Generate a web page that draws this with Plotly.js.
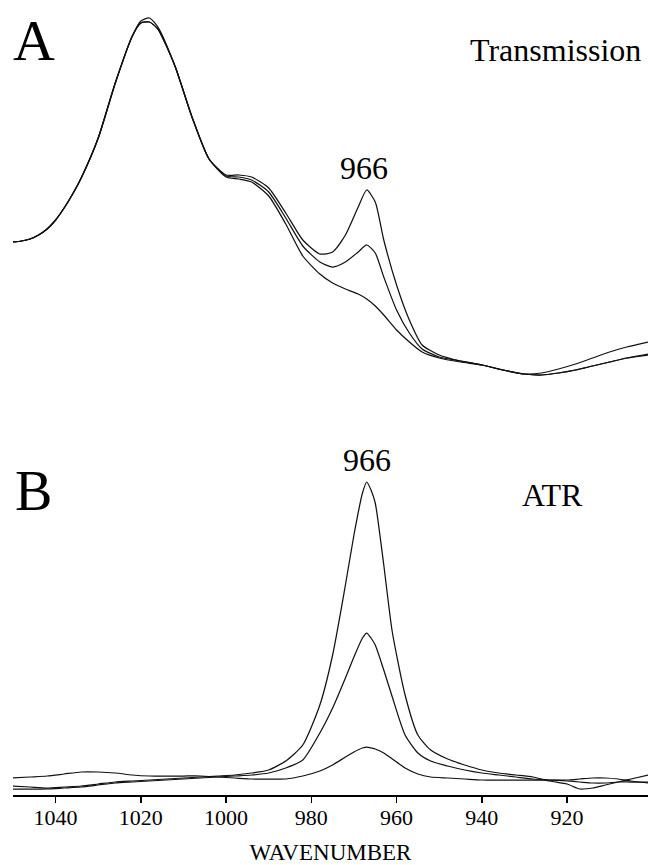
<!DOCTYPE html>
<html>
<head>
<meta charset="utf-8">
<script src="https://cdn.plot.ly/plotly-3.0.1.min.js"></script>
<style>html,body{margin:0;padding:0;background:#fff;}#chart{width:648px;height:865px;}</style>
</head>
<body>
<div id="chart"></div>
<script>
// Panel A (Transmission) - wavenumber grid and absorbance (arbitrary units)
const wnA = [1050,1048,1046,1044,1042,1040,1038,1036,1034,1030,1026,1022,1020,1018,1016,1012,1008,1004,1000,997,994,990,986,982,978,975,972,969,967,965,963,960,957,954,950,945,940,935,930,926,922,918,914,910,906,901];
const transHigh = [158,159,161,165,171,180,192,206,222,262,317,364,379,382,373,334,283,241,225,225,223,212,187,160,146,148,165,193,210,198,160,115,80,55,45,39,35,30,26,27,31,36,42,48,53,58];
const transMid  = [158,159,161,165,171,180,192,206,222,262,317,364,377,378,371,334,283,241,224,223,220,208,182,154,138,133,138,148,155,147,123,90,67,51,43,39,35,30,26,25,27,30,34,38,42,46];
const transLow  = [158,159,161,165,171,180,192,206,222,262,317,364,377,378,371,334,283,241,223,221,218,204,176,144,126,117,111,106,101,94,85,70,58,48,42,38,35,30,26,25,27,30,34,38,42,45];

// Panel B (ATR)
const wnB = [1050,1046,1042,1038,1034,1030,1026,1022,1018,1014,1010,1006,1002,998,994,990,986,982,978,975,972,970,968,967,966,965,963,961,958,955,952,948,944,940,936,932,928,924,920,917,914,911,908,905,901];
const atrHigh = [4,3,2,3,4,6,8,9,10,11,12,13,14,15,17,20,29,45,85,135,205,255,297,308,300,287,225,158,95,55,40,31,25,20,17,15,13,9,6,1,2,5,8,11,15];
const atrMid  = [1,1,1,2,3,5,7,8,9,10,11,12,13,14,15,17,22,30,57,82,112,133,152,157,152,145,120,93,55,37,29,24,20,17,15,13,11,10,9,8,7,7,8,8,8];
const atrLow  = [12,13,14,16,18,18,17,15,14,14,14,14,13,12,11,11,11,14,19,25,33,38,42,43,42,41,37,31,22,16,13,12,11,10,10,10,10,10,10,11,12,12,11,9,7];

const tickVals = [1040,1020,1000,980,960,940,920];
const tickText = ['1040','1020','1000','980','960','940','920'];

const FONT = 'Liberation Serif, Times New Roman, serif';
const lineStyle = {color:'#111', width:1.25, shape:'spline', smoothing:0.6};

function tr(x, y, ax) {
  return {x:x, y:y, type:'scatter', mode:'lines', line:lineStyle, xaxis:'x', yaxis:ax, hoverinfo:'skip', showlegend:false};
}

const data = [
  tr(wnA, transHigh, 'y2'), tr(wnA, transMid, 'y2'), tr(wnA, transLow, 'y2'),
  tr(wnB, atrHigh, 'y'), tr(wnB, atrMid, 'y'), tr(wnB, atrLow, 'y')
];

const layout = {
  width:648, height:865,
  margin:{l:13, r:0, t:0, b:70},
  paper_bgcolor:'#fff', plot_bgcolor:'#fff',
  font:{family:FONT, color:'#000'},
  xaxis:{
    range:[1050, 901], anchor:'y',
    tickmode:'array', tickvals:tickVals, ticktext:tickText,
    ticks:'outside', ticklen:6, tickwidth:1.5, tickcolor:'#000',
    showline:true, linecolor:'#000', linewidth:1.5,
    showgrid:false, zeroline:false,
    tickfont:{family:FONT, size:22, color:'#000'},
    ticklabelstandoff:-4,
    title:{text:'WAVENUMBER', font:{family:FONT, size:23, color:'#000'}, standoff:16}
  },
  yaxis:{domain:[0, 0.45], range:[-5, 352.75], visible:false, fixedrange:true},
  yaxis2:{domain:[0.5, 1], range:[2.5, 400], visible:false, fixedrange:true},
  annotations:[
    {text:'A', x:1045.1, y:360, xref:'x', yref:'y2', showarrow:false, font:{family:FONT, size:58, color:'#000'}, xanchor:'center', yanchor:'middle'},
    {text:'Transmission', x:922.6, y:350, xref:'x', yref:'y2', showarrow:false, font:{family:FONT, size:32, color:'#000'}, xanchor:'center', yanchor:'middle'},
    {text:'966', x:967.7, y:232, xref:'x', yref:'y2', showarrow:false, font:{family:FONT, size:32, color:'#000'}, xanchor:'center', yanchor:'middle'},
    {text:'B', x:1045.2, y:299, xref:'x', yref:'y', showarrow:false, font:{family:FONT, size:56, color:'#000'}, xanchor:'center', yanchor:'middle'},
    {text:'966', x:966.9, y:330, xref:'x', yref:'y', showarrow:false, font:{family:FONT, size:32, color:'#000'}, xanchor:'center', yanchor:'middle'},
    {text:'ATR', x:923.5, y:295, xref:'x', yref:'y', showarrow:false, font:{family:FONT, size:32, color:'#000'}, xanchor:'center', yanchor:'middle'}
  ]
};

Plotly.newPlot('chart', data, layout, {displayModeBar:false, staticPlot:true});
</script>
</body>
</html>
